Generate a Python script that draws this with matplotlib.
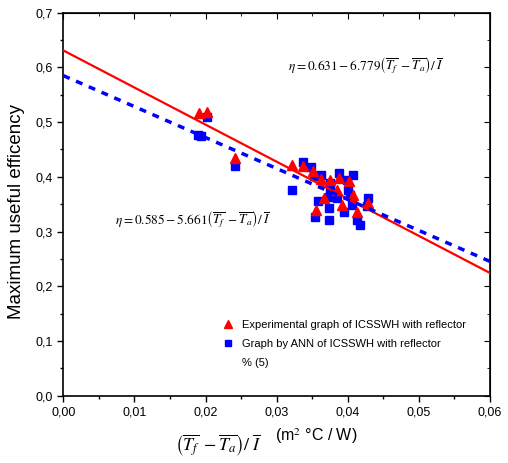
import numpy as np
import matplotlib.pyplot as plt
from matplotlib.lines import Line2D
from matplotlib.ticker import MultipleLocator, FuncFormatter

plt.rcParams['font.family'] = ['Liberation Sans', 'DejaVu Sans']
plt.rcParams['mathtext.fontset'] = 'stix'

# experimental points (red triangles)
exp_x = [0.0191, 0.0202, 0.0242, 0.0322, 0.0337, 0.0351, 0.0363, 0.0375, 0.0388,
         0.0385, 0.0407, 0.0413, 0.0356, 0.0429, 0.0392, 0.0366, 0.0402]
exp_y = [0.516, 0.519, 0.434, 0.421, 0.420, 0.410, 0.396, 0.394, 0.397,
         0.376, 0.367, 0.336, 0.339, 0.352, 0.349, 0.362, 0.392]

# ANN points (blue squares)
ann_x = [0.0190, 0.0194, 0.0202, 0.0242, 0.0322, 0.0337, 0.0348, 0.0352, 0.0362,
         0.0375, 0.0388, 0.0399, 0.0408, 0.0375, 0.0374, 0.0385, 0.0401, 0.0403,
         0.0429, 0.0427, 0.0406, 0.0358, 0.0354, 0.0373, 0.0374, 0.0394, 0.0413,
         0.0417]
ann_y = [0.476, 0.475, 0.510, 0.420, 0.376, 0.428, 0.418, 0.402, 0.403,
         0.388, 0.407, 0.394, 0.403, 0.376, 0.364, 0.361, 0.376, 0.367,
         0.361, 0.346, 0.349, 0.355, 0.327, 0.343, 0.321, 0.336, 0.321,
         0.312]

# fitted lines
exp_fit = (0.631, -6.779)
ann_fit = (0.585, -5.661)

fig = plt.figure(figsize=(5.08, 4.63), dpi=100)
ax = fig.add_axes([0.1246, 0.1454, 0.84, 0.8272])

xs = np.array([0.0, 0.06])
ax.plot(xs, exp_fit[0] + exp_fit[1] * xs, color='red', lw=1.6, zorder=3)
ax.plot(xs, ann_fit[0] + ann_fit[1] * xs, color='blue', lw=2.5,
        dashes=(2, 2), zorder=3)

sq, = ax.plot(ann_x, ann_y, 's', color='blue', ms=5.5, ls='none', zorder=2)
tri, = ax.plot(exp_x, exp_y, '^', color='red', ms=7, ls='none', zorder=2)

ax.set_xlim(0, 0.06)
ax.set_ylim(0, 0.7)
ax.xaxis.set_major_locator(MultipleLocator(0.01))
ax.xaxis.set_minor_locator(MultipleLocator(0.005))
ax.yaxis.set_major_locator(MultipleLocator(0.1))
ax.yaxis.set_minor_locator(MultipleLocator(0.05))
ax.xaxis.set_major_formatter(FuncFormatter(lambda v, p: f'{v:.2f}'.replace('.', ',')))
ax.yaxis.set_major_formatter(FuncFormatter(lambda v, p: f'{v:.1f}'.replace('.', ',')))
ax.tick_params(axis='both', which='both', labelsize=9, direction='out',
               width=1, colors='black')
ax.tick_params(which='major', length=4)
ax.tick_params(which='minor', length=2.5)
for spine in ax.spines.values():
    spine.set_linewidth(1.2)

# top/right ticks point inward, no labels
ax2 = ax.secondary_xaxis('top')
ax2.set_xticks(np.arange(0, 0.061, 0.01))
ax2.set_xticks(np.arange(0.005, 0.06, 0.01), minor=True)
ax2.tick_params(which='both', direction='in', labeltop=False)
ax2.tick_params(which='major', length=4)
ax2.tick_params(which='minor', length=2.5)
ax3 = ax.secondary_yaxis('right')
ax3.set_yticks(np.arange(0, 0.71, 0.1))
ax3.set_yticks(np.arange(0.05, 0.7, 0.1), minor=True)
ax3.tick_params(which='both', direction='in', labelright=False)
ax3.tick_params(which='major', length=4)
ax3.tick_params(which='minor', length=2.5)

ax.set_ylabel('Maximum useful efficency', fontsize=13.5)
ax.yaxis.set_label_coords(-0.09, 0.48)

fig.text(0.429, 0.039,
         r'$\left(\overline{T_f}\;-\overline{T_a}\right)/\;\overline{I}$',
         fontsize=13, ha='center', va='center')
fig.text(0.541, 0.058, r'(m$^2$ °C / W)', fontsize=11.5, ha='left',
         va='center')

ax.text(0.0316, 0.605,
        r'$\eta = 0.631 - 6.779\left(\overline{T_f}\;-\overline{T_a}\right)/\;\overline{I}$',
        fontsize=9.5, va='center')
ax.text(0.0073, 0.323,
        r'$\eta = 0.585 - 5.661\left(\overline{T_f}\;-\overline{T_a}\right)/\;\overline{I}$',
        fontsize=9.5, va='center')

blank = Line2D([], [], ls='none', marker='none')
ax.legend([tri, sq, blank],
          ['Experimental graph of ICSSWH with reflector',
           'Graph by ANN of ICSSWH with reflector', '% (5)'],
          loc='upper left', bbox_to_anchor=(0.367, 0.198), frameon=False,
          fontsize=8, handletextpad=0.5, handlelength=1.5, labelspacing=0.8,
          borderpad=0, borderaxespad=0, markerscale=0.9)

fig.savefig('out.png', dpi=100)
